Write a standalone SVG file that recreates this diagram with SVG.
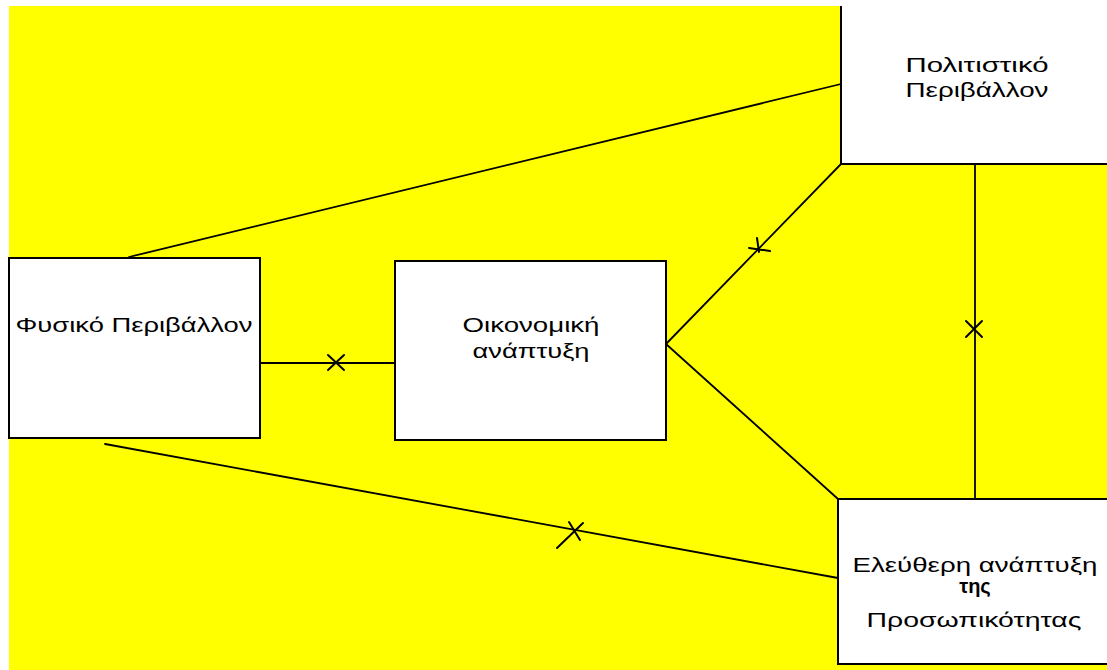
<svg xmlns="http://www.w3.org/2000/svg" width="1107" height="670" viewBox="0 0 1107 670">
<style>
.box{fill:#fff;stroke:#000;stroke-width:2}
.lbl{font-family:"Liberation Sans","DejaVu Sans",sans-serif;font-size:20px;fill:#000;text-anchor:middle}
.ln{stroke:#000;stroke-width:1.8;fill:none;stroke-linecap:round}
.mk{stroke:#000;stroke-width:2;fill:none;stroke-linecap:round}
</style>
<rect x="0" y="0" width="1107" height="670" fill="#fff"/>
<rect x="9" y="6" width="1098" height="664" fill="#ffff00"/>
<g id="connectors">
<line class="ln" x1="129" y1="257" x2="841" y2="84"/>
<line class="ln" x1="105" y1="444" x2="838" y2="578"/>
<line class="ln" x1="260" y1="363" x2="395" y2="363"/>
<line class="ln" x1="666" y1="344" x2="841" y2="164"/>
<line class="ln" x1="666" y1="344" x2="838" y2="499"/>
<line class="ln" x1="975" y1="164" x2="975" y2="499"/>
<path class="mk" d="M328 355 L344 370 M344 355 L328 370"/>
<path class="mk" d="M966 321 L982 337 M982 321 L966 337"/>
<path class="mk" d="M569 522 L580 540 M583 523 L557 548"/>
<path class="mk" d="M749 248 L770 251 M757 238 L759 252"/>
</g>
<g id="node-fysiko">
<rect class="box" x="9" y="258" width="251" height="180"/>
<text class="lbl" x="134" y="332" textLength="237" lengthAdjust="spacingAndGlyphs">Φυσικό Περιβάλλον</text>
</g>
<g id="node-oikonomiki">
<rect class="box" x="395" y="261" width="271" height="179"/>
<text class="lbl" x="531" y="332" textLength="137" lengthAdjust="spacingAndGlyphs">Οικονομική</text>
<text class="lbl" x="531" y="358" textLength="117" lengthAdjust="spacingAndGlyphs">ανάπτυξη</text>
</g>
<g id="node-politistiko">
<rect x="841" y="0" width="266" height="164" fill="#fff"/>
<path d="M841 6 L841 164 L1107 164" fill="none" stroke="#000" stroke-width="2"/>
<text class="lbl" x="977" y="72" textLength="143" lengthAdjust="spacingAndGlyphs">Πολιτιστικό</text>
<text class="lbl" x="977" y="97" textLength="143" lengthAdjust="spacingAndGlyphs">Περιβάλλον</text>
</g>
<g id="node-eleftheri">
<rect class="box" x="838" y="499" width="280" height="165"/>
<text class="lbl" x="975" y="572" textLength="245" lengthAdjust="spacingAndGlyphs">Ελεύθερη ανάπτυξη</text>
<text class="lbl" x="975" y="593" font-weight="bold">της</text>
<text class="lbl" x="974" y="627" textLength="215" lengthAdjust="spacingAndGlyphs">Προσωπικότητας</text>
</g>
</svg>
